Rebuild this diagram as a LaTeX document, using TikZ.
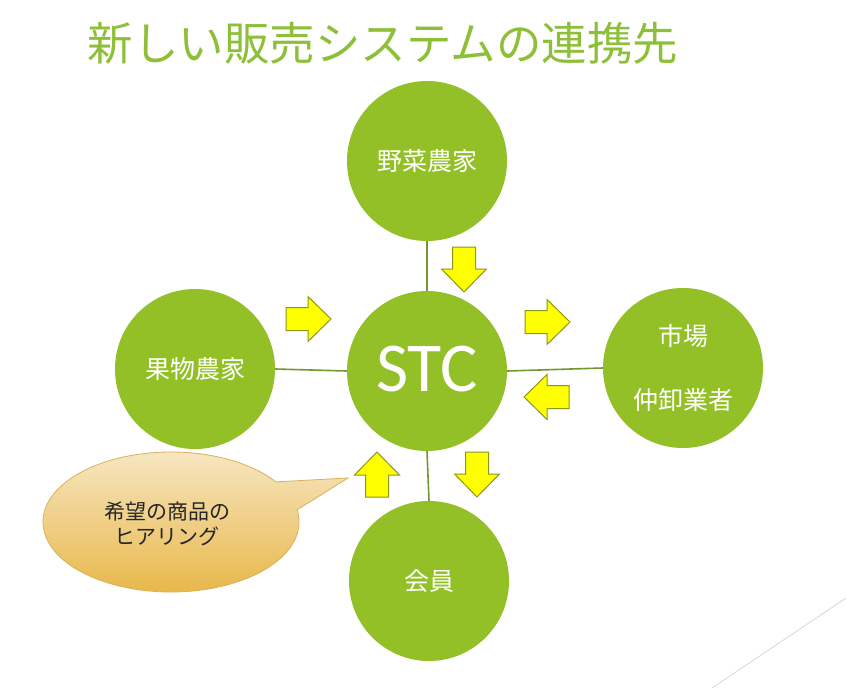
\documentclass[tikz,border=0pt]{standalone}
\usepackage{fontspec}
\setmainfont{Noto Sans CJK JP}
\newfontfamily\stcfont{Carlito}
\definecolor{cgreen}{RGB}{146,192,38}
\definecolor{tgreen}{RGB}{141,192,56}
\definecolor{lgreen}{RGB}{118,150,50}
\definecolor{aborder}{RGB}{140,150,30}
\definecolor{ayellow}{RGB}{255,255,0}
\definecolor{ctop}{RGB}{247,231,196}
\definecolor{cbot}{RGB}{232,182,70}
\definecolor{cborder}{RGB}{214,178,92}
\definecolor{dline}{RGB}{215,215,215}
\tikzset{
  partner/.style={circle, fill=cgreen, minimum size=160pt, inner sep=0pt,
    text=white, font=\fontsize{25pt}{30pt}\selectfont, align=center},
  link/.style={draw=lgreen, line width=1.6pt},
  barrowshape/.style={fill=ayellow, draw=aborder, line width=1pt, line join=miter},
  barrow/.pic={\path[barrowshape] (0,-11.5) -- (22,-11.5) -- (22,-22.5) -- (45,0)
      -- (22,22.5) -- (22,11.5) -- (0,11.5) -- cycle;},
  calloutshape/.style={top color=ctop, bottom color=cbot, draw=cborder, line width=0.8pt},
}
\begin{document}
\begin{tikzpicture}[x=1pt,y=-1pt]
\useasboundingbox (0,0) rectangle (846,688);
\fill[white] (0,0) rectangle (846,688);

% title
\node[text=tgreen, font=\fontsize{45.5pt}{50pt}\selectfont, inner sep=0pt] (title) at (383,43) {新しい販売システムの連携先};

% circles
\node[partner] (veg) at (427,161) {野菜農家};
\node[partner] (stc) at (427,371) {};
\node[text=white, font=\stcfont\fontsize{70pt}{80pt}\selectfont, inner sep=0pt] (stclabel) at (427,369) {STC};
\node[partner] (fruit) at (195,369) {果物農家};
\node[partner] (market) at (683,368) {市場\\[34pt]仲卸業者};
\node[partner] (member) at (429,581) {会員};

% connectors
\draw[link] (veg.south) -- (stc.north);
\draw[link] (fruit.east) -- (stc.west);
\draw[link] (stc.east) -- (market.west);
\draw[link] (stc.south) -- (member.north);

% block arrows
\pic (a1) at (464,247) [rotate=-90] {barrow};
\pic (a2) at (286,319) {barrow};
\pic (a3) at (525,322) {barrow};
\pic (a4) at (569,397) [rotate=180] {barrow};
\pic (a5) at (377,497) [rotate=90] {barrow};
\pic (a6) at (477,452) [rotate=-90] {barrow};

% callout
\coordinate (ctip) at (348,478);
\path[calloutshape] (171,522) ++(-10:128 and 70)
  arc[start angle=-10, end angle=325, x radius=128, y radius=70] -- (ctip) -- cycle;
\node[font=\fontsize{21pt}{25pt}\selectfont, align=center, text=black!85] (calltext) at (167,524) {希望の商品の\\ヒアリング};

% decorative line
\coordinate (d1) at (846,598);
\coordinate (d2) at (712,688);
\draw[dline, line width=0.8pt] (d1) -- (d2);
\end{tikzpicture}
\end{document}
